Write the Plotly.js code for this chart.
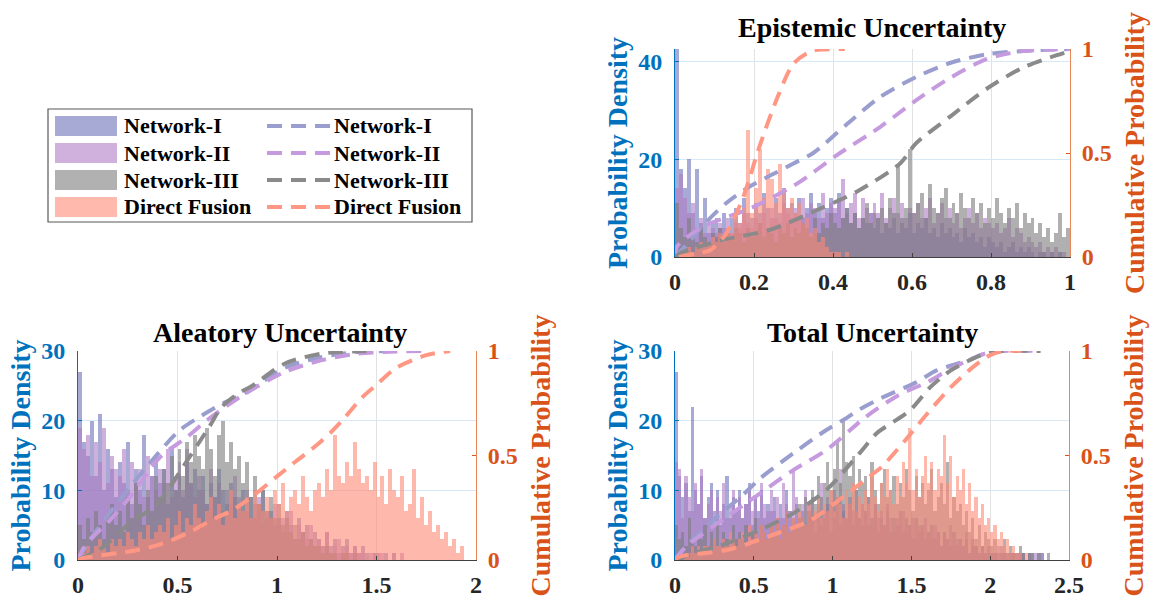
<!DOCTYPE html>
<html><head><meta charset="utf-8">
<script src="https://cdn.plot.ly/plotly-3.0.1.min.js"></script>
<style>html,body{margin:0;padding:0;background:#fff}#chart{width:1153px;height:600px}</style>
</head><body><div id="chart"></div>
<script>
const seriesNames = ['Network-I', 'Network-II', 'Network-III', 'Direct Fusion'];

// ---------- Epistemic Uncertainty (bins of 0.01 on [0,1]) ----------
const epiBinStart = 0.005, epiBinWidth = 0.01;
const epiHistN1 = [43,18,14,20,9,18,7,12,5,7, 8,6,9,5,8,10,7,12,9,8, 11,9,13,10,8,12,9,14,10,11, 9,12,8,10,13,9,11,8,10,12,
  9,13,8,10,7,9,6,8,7,9, 6,8,5,7,6,8,5,7,6,9, 5,7,6,8,5,6,4,7,5,6, 4,5,3,6,4,5,3,4,2,4, 3,2,3,1,2,3,1,2,1,2, 1,0,1,1,0,1,0,1,0,0];
const epiHistN2 = [14,17,12,9,11,6,8,5,7,6, 5,7,6,8,5,7,6,9,7,6, 8,7,9,6,10,8,7,11,9,8, 10,8,12,9,11,10,8,13,9,11,
  10,12,16,9,11,13,8,12,10,9, 11,9,13,8,10,12,9,11,8,10, 9,11,8,10,12,7,9,11,8,10, 7,9,6,8,10,7,9,6,8,7, 6,7,5,6,8,4,6,5,3,4, 3,2,3,1,2,1,2,1,1,0];
const epiHistN3 = [11,6,4,8,5,3,6,4,3,5, 4,6,3,5,4,6,5,3,6,4, 5,7,4,6,5,3,6,5,7,4, 6,5,7,6,4,8,5,7,6,9,
  7,6,8,10,7,9,6,8,11,7, 9,8,10,7,12,9,19,8,10,22, 9,11,13,8,15,10,9,12,14,8, 11,9,13,10,8,12,9,11,7,10, 8,12,9,7,10,8,11,6,9,7, 8,5,7,4,6,3,5,9,4,6];
const epiHistDF = [0,1,1,2,1,2,3,2,3,4, 3,5,4,6,5,8,7,10,26,9, 14,22,12,18,16,11,19,13,10,12, 9,11,7,8,5,6,3,4,2,1,
  1,1,0,1,0,0,0,0,0,0, 0,0,0,0,0,0,0,0,0,0, 0,0,0,0,0,0,0,0,0,0, 0,0,0,0,0,0,0,0,0,0, 0,0,0,0,0,0,0,0,0,0, 0,0,0,0,0,0,0,0,0,0];
const epiCdfX_N1 = [0,0.03,0.07,0.13,0.19,0.25,0.30,0.35,0.43,0.52,0.61,0.70,0.79,0.88,0.96,1.0];
const epiCdfY_N1 = [0,0.06,0.15,0.26,0.34,0.40,0.45,0.50,0.63,0.77,0.865,0.935,0.975,0.99,0.998,1.0];
const epiCdfX_N2 = [0,0.005,0.07,0.13,0.20,0.31,0.41,0.52,0.61,0.70,0.79,0.88,0.96,1.0];
const epiCdfY_N2 = [0,0.05,0.146,0.19,0.242,0.354,0.49,0.626,0.753,0.865,0.952,0.99,0.998,1.0];
const epiCdfX_N3 = [0,0.013,0.12,0.24,0.36,0.46,0.57,0.61,0.70,0.79,0.88,0.95,1.0];
const epiCdfY_N3 = [0,0.018,0.082,0.13,0.226,0.314,0.45,0.546,0.68,0.81,0.91,0.96,0.99];
const epiCdfX_DF = [0.01,0.05,0.09,0.13,0.17,0.19,0.21,0.26,0.30,0.345,0.38,0.43];
const epiCdfY_DF = [0,0.015,0.034,0.114,0.274,0.386,0.51,0.77,0.93,0.99,0.998,1.0];

// ---------- Aleatory Uncertainty (bins of 0.02 on [0,2]) ----------
const aleBinStart = 0.01, aleBinWidth = 0.02;
const aleHistN1 = [27,17,15,20,12,21,10,16,13,9, 14,11,17,8,13,10,18,9,12,15, 11,13,8,16,10,12,9,14,11,13, 10,12,8,11,9,13,10,8,11,9,
  8,10,7,9,6,8,10,6,7,5, 6,4,7,5,3,6,4,5,3,4, 3,2,4,2,3,1,2,3,1,2, 1,2,1,0,1,1,0,1,0,1, 0,0,0,0,0,0,0,0,0,0, 0,0,0,0,0,0,0,0,0,0];
const aleHistN2 = [19,16,18,12,17,14,19,11,15,13, 12,16,10,14,11,13,9,15,12,10, 13,11,16,9,12,14,10,16,11,9, 12,10,8,13,9,11,7,10,8,12,
  9,7,10,6,8,9,5,7,6,8, 5,6,4,7,3,5,4,3,5,2, 3,2,4,1,2,3,1,2,1,2, 1,1,0,1,1,0,1,0,0,1, 0,1,0,0,0,0,0,0,0,0, 0,0,0,0,0,0,0,0,0,0];
const aleHistN3 = [5,3,6,4,7,5,3,6,8,5, 7,4,9,6,11,8,5,10,7,12, 9,13,11,15,10,16,12,17,14,18, 15,13,19,16,12,18,20,14,17,13,
  15,11,14,9,12,8,10,7,9,6, 8,5,6,4,5,3,4,2,3,2, 2,1,2,1,1,0,1,1,0,1, 0,0,0,0,0,0,0,0,0,0, 0,0,0,0,0,0,0,0,0,0, 0,0,0,0,0,0,0,0,0,0];
const aleHistDF = [1,1,2,1,2,3,2,1,3,2, 3,2,4,3,2,4,3,5,3,4, 5,4,6,3,5,7,4,6,5,8, 6,5,7,9,6,8,5,7,10,6,
  8,7,9,6,10,8,7,9,6,10, 8,11,7,9,10,8,12,9,7,10, 11,9,13,10,18,12,11,14,12,17, 13,11,12,10,14,9,12,8,13,10, 9,12,7,8,13,6,9,5,7,4, 5,3,4,2,3,1,2,0,0,0];
const aleCdfX_N1 = [0,0.06,0.21,0.36,0.51,0.62,0.73,0.86,1.04,1.22,1.40,1.60];
const aleCdfY_N1 = [0,0.096,0.287,0.463,0.62,0.69,0.75,0.81,0.92,0.97,0.995,1.0];
const aleCdfX_N2 = [0,0.03,0.085,0.16,0.26,0.41,0.55,0.65,0.83,1.04,1.22,1.40,1.60,1.76];
const aleCdfY_N2 = [0,0.06,0.12,0.19,0.30,0.49,0.59,0.67,0.79,0.90,0.955,0.987,0.998,1.0];
const aleCdfX_N3 = [0,0.13,0.26,0.40,0.55,0.66,0.72,0.81,0.87,1.04,1.22,1.45];
const aleCdfY_N3 = [0,0.064,0.176,0.27,0.478,0.638,0.73,0.80,0.83,0.94,0.987,1.0];
const aleCdfX_DF = [0,0.03,0.30,0.42,0.55,0.69,0.77,0.87,1.0,1.1,1.2,1.27,1.33,1.43,1.49,1.6,1.75,1.87];
const aleCdfY_DF = [0,0.01,0.048,0.077,0.128,0.20,0.235,0.30,0.40,0.476,0.55,0.61,0.67,0.78,0.83,0.92,0.98,1.0];

// ---------- Total Uncertainty (bins of 0.02 on [0,2.5]) ----------
const totBinStart = 0.01, totBinWidth = 0.02;
const totHistN1 = [27,12,9,11,7,22,10,8,12,6, 9,11,7,10,5,8,12,6,9,7, 10,6,8,11,5,9,7,10,6,8, 7,9,5,8,6,10,7,5,8,6,
  7,5,8,6,4,7,5,6,8,4, 6,9,5,7,6,8,5,7,6,5, 7,5,6,8,4,6,5,7,4,6, 5,7,4,6,5,3,6,4,5,3, 4,5,3,4,2,4,3,2,4,2, 3,2,3,1,2,2,1,2,1,1,
  1,1,0,1,1,0,1,1,0,1, 1,0,1,1,0,1,1,0,0,0, 0,0,0,0,0];
const totHistN2 = [14,13,6,12,9,7,11,8,13,6, 8,10,5,9,7,11,6,8,10,7, 9,6,8,10,7,9,6,11,8,7, 10,7,9,6,11,8,7,13,9,6,
  8,10,7,9,6,8,11,7,9,8, 10,7,13,8,6,9,7,10,6,8, 7,9,5,8,6,7,5,8,6,4, 6,5,7,4,5,6,3,5,4,6, 4,3,5,4,2,4,3,5,2,3, 3,2,4,1,3,2,1,2,1,2,
  1,1,2,0,1,1,0,1,1,0, 1,0,1,0,1,0,1,0,0,0, 0,0,0,0,0];
const totHistN3 = [5,3,4,2,6,3,2,4,3,5, 2,4,3,5,2,4,3,2,5,3, 4,3,5,2,4,6,3,5,4,3, 5,4,6,3,5,7,4,6,5,8,
  6,9,7,10,8,12,9,11,14,10, 13,17,11,20,14,12,15,10,13,11, 12,9,14,10,8,11,13,9,10,12, 8,11,9,13,10,7,12,9,11,8, 10,13,7,9,11,8,14,6,9,7, 8,5,7,4,6,3,5,2,4,3,
  2,3,1,2,3,1,2,1,1,2, 1,0,1,1,0,1,0,0,1,0, 0,0,0,0,0];
const totHistDF = [0,1,0,1,1,2,1,2,1,2, 2,1,3,2,2,3,2,4,3,2, 3,4,2,5,3,4,3,5,4,3, 5,4,6,3,5,7,4,6,5,7,
  6,5,8,6,7,9,6,8,7,10, 7,9,8,6,10,8,11,7,9,8, 10,8,12,9,7,11,9,13,10,8, 12,9,14,11,19,10,13,9,12,15, 11,14,10,13,12,18,11,15,9,12, 10,13,8,11,7,9,6,8,5,6,
  4,5,3,4,2,3,1,2,1,1, 0,1,0,0,0,0,0,0,0,0, 0,0,0,0,0];
const totCdfX_N1 = [0,0.03,0.22,0.43,0.54,0.75,0.96,1.09,1.17,1.31,1.53,1.66,1.86,2.0,2.31];
const totCdfY_N1 = [0,0.032,0.176,0.311,0.39,0.51,0.622,0.68,0.72,0.775,0.85,0.907,0.955,0.995,1.0];
const totCdfX_N2 = [0,0.07,0.33,0.54,0.75,0.96,1.17,1.22,1.42,1.60,1.73,1.86,2.0,2.31];
const totCdfY_N2 = [0,0.064,0.207,0.319,0.43,0.526,0.66,0.69,0.79,0.85,0.907,0.955,0.995,1.0];
const totCdfX_N3 = [0,0.12,0.33,0.54,0.75,0.96,1.17,1.28,1.49,1.62,1.75,1.89,2.0,2.32];
const totCdfY_N3 = [0,0.032,0.08,0.144,0.223,0.335,0.51,0.606,0.716,0.827,0.907,0.963,0.995,1.0];
const totCdfX_DF = [0,0.03,0.33,0.65,0.86,1.07,1.26,1.31,1.46,1.60,1.75,1.89,2.0,2.09,2.2];
const totCdfY_DF = [0,0.016,0.048,0.128,0.19,0.303,0.415,0.444,0.572,0.70,0.827,0.923,0.98,1.0,1.0];

// ---------- styles ----------
const W = 1153, H = 600;
const barColors = ['#6e72ba', '#b07cc6', '#7d7d7d', '#ff8a76'];
const lineColors = ['#9a9ecf', '#c69ade', '#8a8a8a', '#ff9784'];
const FONT = 'Liberation Serif, Times New Roman, serif';
const BLUE = '#0072BD', ORANGE = '#D95319', DARK = '#262626';
const DASH = '15px,9px';

function histTrace(vals, x0, dx, i, xa, ya) {
  return {type: 'bar', x0: x0, dx: dx, y: vals, xaxis: xa, yaxis: ya, name: seriesNames[i],
    marker: {color: barColors[i], line: {width: 0}}, opacity: 0.6, showlegend: false, hoverinfo: 'skip'};
}
function cdfTrace(xs, ys, i, xa, ya) {
  return {type: 'scatter', mode: 'lines', x: xs, y: ys, xaxis: xa, yaxis: ya, name: seriesNames[i],
    line: {color: lineColors[i], width: 4, dash: DASH, shape: 'spline', smoothing: 0.8}, showlegend: false, hoverinfo: 'skip'};
}

const data = [
  histTrace(epiHistN1, epiBinStart, epiBinWidth, 0, 'x', 'y'),
  histTrace(epiHistN2, epiBinStart, epiBinWidth, 1, 'x', 'y'),
  histTrace(epiHistN3, epiBinStart, epiBinWidth, 2, 'x', 'y'),
  histTrace(epiHistDF, epiBinStart, epiBinWidth, 3, 'x', 'y'),
  cdfTrace(epiCdfX_N1, epiCdfY_N1, 0, 'x', 'y2'),
  cdfTrace(epiCdfX_N2, epiCdfY_N2, 1, 'x', 'y2'),
  cdfTrace(epiCdfX_N3, epiCdfY_N3, 2, 'x', 'y2'),
  cdfTrace(epiCdfX_DF, epiCdfY_DF, 3, 'x', 'y2'),
  histTrace(aleHistN1, aleBinStart, aleBinWidth, 0, 'x2', 'y3'),
  histTrace(aleHistN2, aleBinStart, aleBinWidth, 1, 'x2', 'y3'),
  histTrace(aleHistN3, aleBinStart, aleBinWidth, 2, 'x2', 'y3'),
  histTrace(aleHistDF, aleBinStart, aleBinWidth, 3, 'x2', 'y3'),
  cdfTrace(aleCdfX_N1, aleCdfY_N1, 0, 'x2', 'y4'),
  cdfTrace(aleCdfX_N2, aleCdfY_N2, 1, 'x2', 'y4'),
  cdfTrace(aleCdfX_N3, aleCdfY_N3, 2, 'x2', 'y4'),
  cdfTrace(aleCdfX_DF, aleCdfY_DF, 3, 'x2', 'y4'),
  histTrace(totHistN1, totBinStart, totBinWidth, 0, 'x3', 'y5'),
  histTrace(totHistN2, totBinStart, totBinWidth, 1, 'x3', 'y5'),
  histTrace(totHistN3, totBinStart, totBinWidth, 2, 'x3', 'y5'),
  histTrace(totHistDF, totBinStart, totBinWidth, 3, 'x3', 'y5'),
  cdfTrace(totCdfX_N1, totCdfY_N1, 0, 'x3', 'y6'),
  cdfTrace(totCdfX_N2, totCdfY_N2, 1, 'x3', 'y6'),
  cdfTrace(totCdfX_N3, totCdfY_N3, 2, 'x3', 'y6'),
  cdfTrace(totCdfX_DF, totCdfY_DF, 3, 'x3', 'y6')
];

const tickFontX = {family: FONT, size: 24, color: DARK, weight: 'bold'};
function xAxis(domain, anchor, range, dtick) {
  return {domain: domain, anchor: anchor, range: range, dtick: dtick, tick0: 0, showline: true, linecolor: '#404040', linewidth: 1,
    ticks: 'inside', ticklen: 4, tickcolor: '#404040', showgrid: true, gridcolor: '#e2e2e2', gridwidth: 1, zeroline: false,
    tickfont: tickFontX, ticklabelstandoff: 3, fixedrange: true};
}
function yLeft(domain, anchor, range, tickvals) {
  return {domain: domain, anchor: anchor, range: range, tickvals: tickvals, showline: true, linecolor: BLUE, linewidth: 1,
    ticks: 'inside', ticklen: 4, tickcolor: BLUE, showgrid: true, gridcolor: '#d8e7f5', gridwidth: 1, zeroline: false,
    tickfont: {family: FONT, size: 24, color: BLUE, weight: 'bold'}, ticklabelstandoff: 7,
    title: {text: 'Probability Density', font: {family: FONT, size: 28, color: BLUE, weight: 'bold'}, standoff: 2}, fixedrange: true};
}
function yRight(overlay, anchor) {
  return {overlaying: overlay, anchor: anchor, side: 'right', range: [0, 1], tickvals: [0, 0.5, 1], ticktext: ['0', '0.5', '1'],
    showline: true, linecolor: '#e8875a', linewidth: 1, ticks: 'inside', ticklen: 4, tickcolor: ORANGE, showgrid: false, zeroline: false,
    tickfont: {family: FONT, size: 24, color: ORANGE, weight: 'bold'}, ticklabelstandoff: 6,
    title: {text: 'Cumulative Probability', font: {family: FONT, size: 28, color: ORANGE, weight: 'bold'}, standoff: 13}, fixedrange: true};
}

const topDomY = [(H - 257) / H, (H - 49) / H];
const botDomY = [(H - 560) / H, (H - 351) / H];

// legend drawn as a boxed key
const px = x => x / W, py = y => 1 - y / H;
const legendRows = [126, 153, 180, 207];
const shapes = [{type: 'rect', xref: 'paper', yref: 'paper', x0: px(48), x1: px(472), y0: py(222), y1: py(109),
  line: {color: '#595959', width: 1.2}, fillcolor: 'rgba(255,255,255,1)'}];
const annotations = [];
seriesNames.forEach((nm, i) => {
  const yc = legendRows[i];
  shapes.push({type: 'rect', xref: 'paper', yref: 'paper', x0: px(55), x1: px(117), y0: py(yc + 10), y1: py(yc - 10),
    fillcolor: barColors[i], opacity: 0.6, line: {width: 0}});
  shapes.push({type: 'line', xref: 'paper', yref: 'paper', x0: px(267), x1: px(330), y0: py(yc), y1: py(yc),
    line: {color: lineColors[i], width: 4, dash: DASH}});
  annotations.push({xref: 'paper', yref: 'paper', x: px(122), y: py(yc), xanchor: 'left', yanchor: 'middle', showarrow: false,
    text: nm, font: {family: FONT, size: 22, color: '#000', weight: 'bold'}});
  annotations.push({xref: 'paper', yref: 'paper', x: px(332), y: py(yc), xanchor: 'left', yanchor: 'middle', showarrow: false,
    text: nm, font: {family: FONT, size: 22, color: '#000', weight: 'bold'}});
});
const titleFont = {family: FONT, size: 28, color: '#000', weight: 'bold'};
annotations.push({xref: 'paper', yref: 'paper', x: px(872), y: py(28), xanchor: 'center', yanchor: 'middle', showarrow: false, text: 'Epistemic Uncertainty', font: titleFont});
annotations.push({xref: 'paper', yref: 'paper', x: px(280), y: py(332), xanchor: 'center', yanchor: 'middle', showarrow: false, text: 'Aleatory Uncertainty', font: titleFont});
annotations.push({xref: 'paper', yref: 'paper', x: px(872), y: py(332), xanchor: 'center', yanchor: 'middle', showarrow: false, text: 'Total Uncertainty', font: titleFont});

const layout = {
  width: W, height: H, margin: {l: 0, r: 0, t: 0, b: 0}, paper_bgcolor: '#fff', plot_bgcolor: 'rgba(0,0,0,0)',
  barmode: 'overlay', bargap: 0, showlegend: false, font: {family: FONT},
  xaxis: xAxis([675 / W, 1070 / W], 'y', [0, 1], 0.2),
  yaxis: yLeft(topDomY, 'x', [0, 42.5], [0, 20, 40]),
  yaxis2: yRight('y', 'x'),
  xaxis2: xAxis([78 / W, 476 / W], 'y3', [0, 2], 0.5),
  yaxis3: yLeft(botDomY, 'x2', [0, 30], [0, 10, 20, 30]),
  yaxis4: yRight('y3', 'x2'),
  xaxis3: xAxis([675 / W, 1069 / W], 'y5', [0, 2.5], 0.5),
  yaxis5: yLeft(botDomY, 'x3', [0, 30], [0, 10, 20, 30]),
  yaxis6: yRight('y5', 'x3'),
  shapes: shapes, annotations: annotations
};
Plotly.newPlot('chart', data, layout, {displayModeBar: false, staticPlot: true});
</script>
</body></html>
